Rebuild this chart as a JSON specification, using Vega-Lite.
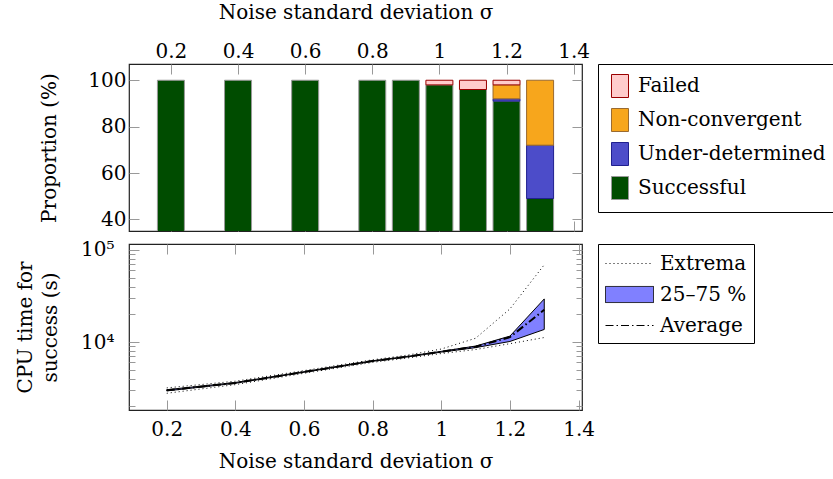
{
  "$schema": "https://vega.github.io/schema/vega-lite/v6.json",
  "background": "white",
  "padding": {"left": 14, "top": 1, "right": 0, "bottom": 0},
  "config": {
    "font": "DejaVu Serif",
    "view": {"stroke": "#222", "strokeWidth": 1.2},
    "axis": {
      "labelFont": "DejaVu Serif", "labelFontSize": 20, "labelColor": "black",
      "titleFont": "DejaVu Serif", "titleFontSize": 20, "titleFontWeight": "normal", "titleColor": "black",
      "domain": false, "grid": false, "tickColor": "#999", "tickSize": -10, "tickWidth": 1
    },
    "legend": {
      "labelFont": "DejaVu Serif", "labelFontSize": 20, "labelColor": "black", "labelLimit": 400,
      "strokeColor": "black", "fillColor": "white", "padding": 7, "offset": 15, "orient": "right"
    },
    "concat": {"spacing": 6}
  },
  "resolve": {
    "scale": {"color": "independent", "fill": "independent", "stroke": "independent", "shape": "independent", "strokeDash": "independent"},
    "legend": {"color": "independent", "fill": "independent", "stroke": "independent", "shape": "independent", "strokeDash": "independent"}
  },
  "vconcat": [
    {
      "width": 453,
      "height": 167,
      "data": {"values": [
        {"sigma": 0.2, "outcome": "Successful", "percent": 100},
        {"sigma": 0.4, "outcome": "Successful", "percent": 100},
        {"sigma": 0.6, "outcome": "Successful", "percent": 100},
        {"sigma": 0.8, "outcome": "Successful", "percent": 100},
        {"sigma": 0.9, "outcome": "Successful", "percent": 100},
        {"sigma": 1.0, "outcome": "Successful", "percent": 98},
        {"sigma": 1.0, "outcome": "Failed", "percent": 2},
        {"sigma": 1.1, "outcome": "Successful", "percent": 96},
        {"sigma": 1.1, "outcome": "Failed", "percent": 4},
        {"sigma": 1.2, "outcome": "Successful", "percent": 91},
        {"sigma": 1.2, "outcome": "Under-determined", "percent": 1},
        {"sigma": 1.2, "outcome": "Non-convergent", "percent": 6},
        {"sigma": 1.2, "outcome": "Failed", "percent": 2},
        {"sigma": 1.3, "outcome": "Successful", "percent": 49},
        {"sigma": 1.3, "outcome": "Under-determined", "percent": 23},
        {"sigma": 1.3, "outcome": "Non-convergent", "percent": 28}
      ]},
      "layer": [
        {
          "mark": {"type": "bar", "width": 27, "strokeWidth": 1, "clip": true},
          "encoding": {
            "x": {"field": "sigma", "type": "quantitative",
                  "scale": {"domain": [0.09, 1.41], "nice": false, "zero": false},
                  "axis": {"orient": "top", "values": [0.2, 0.4, 0.6, 0.8, 1, 1.2, 1.4], "format": "~g",
                           "title": "Noise standard deviation σ", "labelPadding": 13, "titlePadding": 19}},
            "y": {"field": "percent", "type": "quantitative", "stack": "zero",
                  "scale": {"domain": [35, 107], "nice": false, "zero": false},
                  "axis": {"orient": "left", "values": [40, 60, 80, 100], "title": "Proportion (%)",
                           "labelPadding": 13, "titlePadding": 28}},
            "fill": {"field": "outcome", "type": "nominal",
                     "scale": {"domain": ["Failed", "Non-convergent", "Under-determined", "Successful"],
                               "range": ["#ffcccc", "#f7a61c", "#4c4cc9", "#004c00"]},
                     "legend": {"title": null, "symbolType": "M-0.74,-1H0.74V1H-0.74Z", "symbolSize": 529,
                                "symbolStrokeWidth": 1, "rowPadding": 6, "labelOffset": 6, "padding": 10}},
            "stroke": {"field": "outcome", "type": "nominal",
                       "scale": {"domain": ["Failed", "Non-convergent", "Under-determined", "Successful"],
                                 "range": ["#990000", "#9a6a30", "#1f1f8f", "#999999"]},
                       "legend": {"title": null, "symbolType": "M-0.74,-1H0.74V1H-0.74Z", "symbolSize": 529,
                                  "symbolStrokeWidth": 1, "rowPadding": 6, "labelOffset": 6, "padding": 10}},
            "order": {"field": "sigma"}
          }
        },
        {
          "mark": {"type": "rule", "opacity": 0, "clip": true},
          "encoding": {
            "x": {"field": "sigma", "type": "quantitative",
                  "scale": {"domain": [0.09, 1.41], "nice": false, "zero": false},
                  "axis": {"orient": "bottom", "values": [0.2, 0.4, 0.6, 0.8, 1, 1.2, 1.4], "labels": false, "title": null}},
            "y": {"field": "percent", "type": "quantitative",
                  "scale": {"domain": [35, 107], "nice": false, "zero": false},
                  "axis": {"orient": "right", "values": [40, 60, 80, 100], "labels": false, "title": null}}
          }
        }
      ],
      "resolve": {"axis": {"x": "independent", "y": "independent"}}
    },
    {
      "width": 453,
      "height": 166,
      "data": {"values": [
        {"sigma": 0.2, "min": 2780, "q25": 2950, "avg": 2990, "q75": 3040, "max": 3180},
        {"sigma": 0.4, "min": 3450, "q25": 3570, "avg": 3600, "q75": 3640, "max": 3760},
        {"sigma": 0.6, "min": 4580, "q25": 4700, "avg": 4730, "q75": 4770, "max": 4900},
        {"sigma": 0.8, "min": 6020, "q25": 6180, "avg": 6220, "q75": 6270, "max": 6420},
        {"sigma": 0.9, "min": 6700, "q25": 6880, "avg": 6930, "q75": 6990, "max": 7200},
        {"sigma": 1.0, "min": 7500, "q25": 7780, "avg": 7850, "q75": 7930, "max": 8400},
        {"sigma": 1.1, "min": 8300, "q25": 8700, "avg": 8900, "q75": 9050, "max": 11000},
        {"sigma": 1.2, "min": 9600, "q25": 10150, "avg": 11300, "q75": 11600, "max": 22900},
        {"sigma": 1.3, "min": 11200, "q25": 13700, "avg": 22400, "q75": 29400, "max": 69000}
      ]},
      "layer": [
        {
          "mark": {"type": "area", "stroke": "black", "strokeWidth": 1, "clip": true},
          "encoding": {
            "x": {"field": "sigma", "type": "quantitative",
                  "scale": {"domain": [0.09, 1.41], "nice": false, "zero": false},
                  "axis": {"orient": "bottom", "values": [0.2, 0.4, 0.6, 0.8, 1, 1.2, 1.4], "format": "~g",
                           "title": "Noise standard deviation σ", "labelPadding": 19, "titlePadding": 12}},
            "y": {"field": "q25", "type": "quantitative",
                  "scale": {"type": "log", "domain": [1830, 116000], "nice": false},
                  "axis": {"orient": "left", "values": [10000, 100000],
                           "labelExpr": "datum.value >= 100000 ? '10⁵' : '10⁴'",
                           "title": ["CPU time for", "success (s)"], "titleLineHeight": 25,
                           "labelPadding": 25, "titlePadding": 20}},
            "y2": {"field": "q75"},
            "color": {"datum": "25–75 %",
                      "scale": {"domain": ["Extrema", "25–75 %", "Average"], "range": ["black", "#8080ff", "black"]},
                      "legend": {"title": null, "rowPadding": 8, "labelOffset": 30, "symbolSize": 576, "symbolStrokeWidth": 1}}
          }
        },
        {
          "transform": [{"fold": ["min", "max"], "as": ["stat", "val"]}],
          "mark": {"type": "line", "color": "black", "strokeWidth": 1, "clip": true},
          "encoding": {
            "x": {"field": "sigma", "type": "quantitative",
                  "scale": {"domain": [0.09, 1.41], "nice": false, "zero": false},
                  "axis": {"orient": "top", "values": [0.2, 0.4, 0.6, 0.8, 1, 1.2, 1.4], "labels": false, "title": null}},
            "y": {"field": "val", "type": "quantitative",
                  "scale": {"type": "log", "domain": [1830, 116000], "nice": false},
                  "axis": {"orient": "left", "values": [2000, 3000, 4000, 5000, 6000, 7000, 8000, 9000, 20000, 30000, 40000, 50000, 60000, 70000, 80000, 90000],
                           "labels": false, "title": null, "tickSize": -6}},
            "detail": {"field": "stat"},
            "strokeDash": {"datum": "Extrema",
                           "scale": {"domain": ["Extrema", "25–75 %", "Average"], "range": [[1, 3], [1, 0], [8, 3, 1.5, 3]]},
                           "legend": {"title": null, "rowPadding": 8, "labelOffset": 30, "symbolSize": 576, "symbolStrokeWidth": 1}}
          }
        },
        {
          "mark": {"type": "line", "color": "black", "strokeWidth": 2, "clip": true},
          "encoding": {
            "x": {"field": "sigma", "type": "quantitative",
                  "scale": {"domain": [0.09, 1.41], "nice": false, "zero": false}, "axis": null},
            "y": {"field": "avg", "type": "quantitative",
                  "scale": {"type": "log", "domain": [1830, 116000], "nice": false},
                  "axis": {"orient": "right", "values": [10000, 100000], "labels": false, "title": null}},
            "strokeDash": {"datum": "Average",
                           "scale": {"domain": ["Extrema", "25–75 %", "Average"], "range": [[1, 3], [1, 0], [8, 3, 1.5, 3]]}}
          }
        },
        {
          "transform": [{"filter": "false"}],
          "mark": {"type": "point", "clip": true},
          "encoding": {
            "x": {"field": "sigma", "type": "quantitative",
                  "scale": {"domain": [0.09, 1.41], "nice": false, "zero": false}, "axis": null},
            "y": {"field": "avg", "type": "quantitative",
                  "scale": {"type": "log", "domain": [1830, 116000], "nice": false},
                  "axis": {"orient": "right", "values": [2000, 3000, 4000, 5000, 6000, 7000, 8000, 9000, 20000, 30000, 40000, 50000, 60000, 70000, 80000, 90000],
                           "labels": false, "title": null, "tickSize": -6}},
            "shape": {"datum": "Extrema",
                      "scale": {"domain": ["Extrema", "25–75 %", "Average"], "range": ["M-1,0H3", "M-1,-0.67H3V0.67H-1Z", "M-1,0H3"]},
                      "legend": {"title": null, "rowPadding": 8, "labelOffset": 30, "symbolSize": 576, "symbolStrokeWidth": 1}}
          }
        }
      ],
      "resolve": {"axis": {"x": "independent", "y": "independent"}}
    }
  ]
}
